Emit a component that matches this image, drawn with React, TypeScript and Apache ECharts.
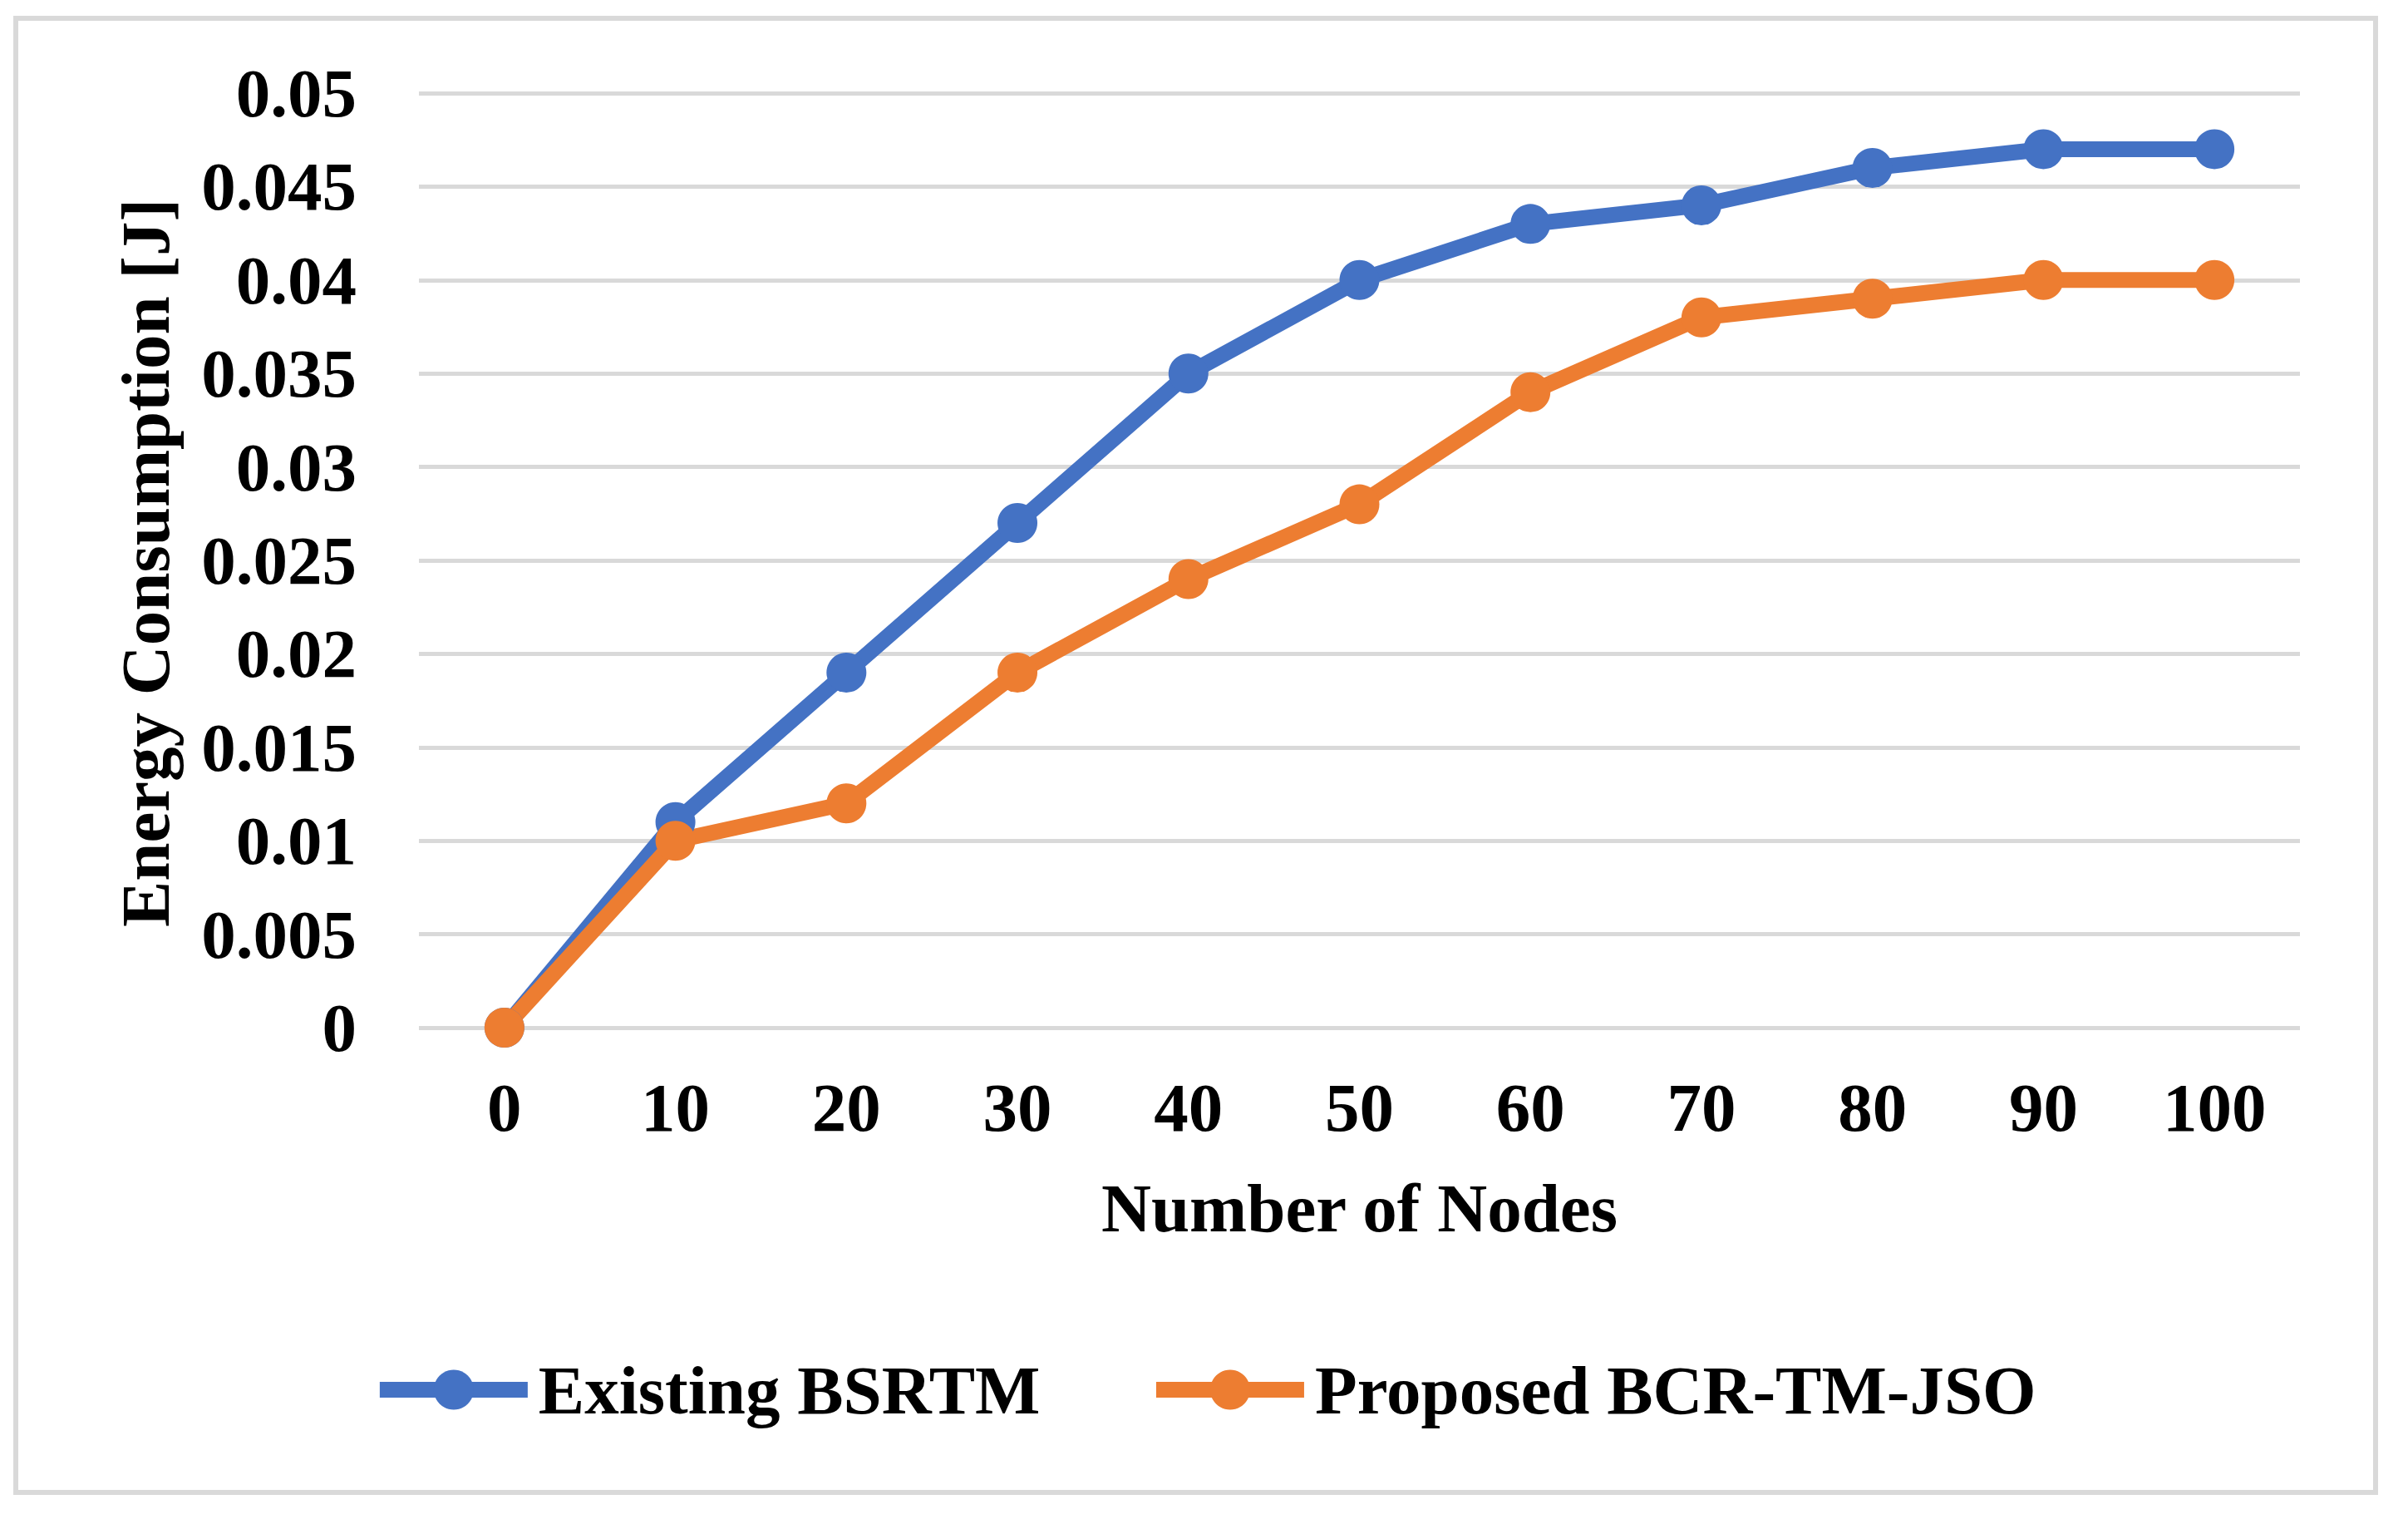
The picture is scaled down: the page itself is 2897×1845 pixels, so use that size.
import React, { useEffect, useRef } from "react";
import * as echarts from "echarts";

const categories = ["0", "10", "20", "30", "40", "50", "60", "70", "80", "90", "100"];
const existingBSRTM = [0, 0.011, 0.019, 0.027, 0.035, 0.04, 0.043, 0.044, 0.046, 0.047, 0.047];
const proposedBCR = [0, 0.01, 0.012, 0.019, 0.024, 0.028, 0.034, 0.038, 0.039, 0.04, 0.04];
const seriesNames = ["Existing BSRTM", "Proposed BCR-TM-JSO"];
const xTitle = "Number of Nodes";
const yTitle = "Energy Consumption [J]";

const FONT = "'Liberation Serif', 'Times New Roman', serif";
const FS = 83;

export default function App() {
  const ref = useRef<HTMLDivElement>(null);
  useEffect(() => {
    document.body.style.margin = "0";
    const chart = echarts.init(ref.current!, null, { renderer: "svg" });
    chart.setOption({
      animation: false,
      backgroundColor: "#ffffff",
      grid: { left: 504, right: 130, top: 112, bottom: 609 },
      xAxis: {
        type: "category",
        data: categories,
        boundaryGap: true,
        axisLine: { show: false },
        axisTick: { show: false },
        axisLabel: {
          margin: 54,
          fontFamily: FONT,
          fontWeight: "bold",
          fontSize: FS,
          color: "#000",
        },
        name: xTitle,
        nameLocation: "middle",
        nameGap: 175,
        nameTextStyle: {
          fontFamily: FONT,
          fontWeight: "bold",
          fontSize: FS,
          color: "#000",
        },
      },
      yAxis: {
        type: "value",
        min: 0,
        max: 0.05,
        interval: 0.005,
        axisLine: { show: false },
        axisTick: { show: false },
        splitLine: { lineStyle: { color: "#d9d9d9", width: 5 } },
        axisLabel: {
          margin: 75,
          fontFamily: FONT,
          fontWeight: "bold",
          fontSize: FS,
          color: "#000",
          formatter: (v: number) => String(parseFloat(v.toFixed(3))),
        },
      },
      legend: {
        data: seriesNames,
        left: "center",
        top: 1630,
        padding: 0,
        itemGap: 130,
        itemWidth: 178,
        itemHeight: 60,
        lineStyle: { width: 19 },
        textStyle: {
          fontFamily: FONT,
          fontWeight: "bold",
          fontSize: FS,
          color: "#000",
          padding: [0, 0, 0, 8],
        },
      },
      graphic: [
        {
          type: "rect",
          shape: { x: 19, y: 22, width: 2839, height: 1773 },
          style: { fill: "none", stroke: "#d9d9d9", lineWidth: 6 },
          silent: true,
          z: -1,
        },
        {
          type: "text",
          x: 175,
          y: 677,
          rotation: Math.PI / 2,
          style: {
            text: yTitle,
            font: `bold ${FS}px ${FONT}`,
            fill: "#000",
            textAlign: "center",
            textVerticalAlign: "middle",
          },
        },
      ],
      series: [
        {
          name: seriesNames[0],
          type: "line",
          data: existingBSRTM,
          symbol: "circle",
          symbolSize: 48,
          lineStyle: { color: "#4472C4", width: 19 },
          itemStyle: { color: "#4472C4" },
        },
        {
          name: seriesNames[1],
          type: "line",
          data: proposedBCR,
          symbol: "circle",
          symbolSize: 48,
          lineStyle: { color: "#ED7D31", width: 19 },
          itemStyle: { color: "#ED7D31" },
        },
      ],
    });
    return () => chart.dispose();
  }, []);
  return <div ref={ref} style={{ width: 2897, height: 1845 }} />;
}
